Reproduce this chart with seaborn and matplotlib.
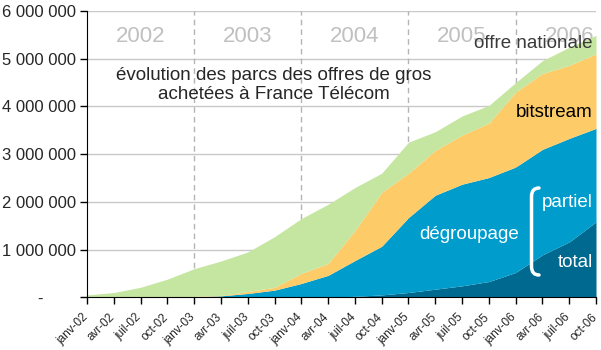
import numpy as np
import pandas as pd
import seaborn as sns
import matplotlib.pyplot as plt
import matplotlib.transforms as mtransforms
from matplotlib.path import Path
from matplotlib.patches import PathPatch

# quarterly values (lines)
quarters = ['janv-02', 'avr-02', 'juil-02', 'oct-02',
            'janv-03', 'avr-03', 'juil-03', 'oct-03',
            'janv-04', 'avr-04', 'juil-04', 'oct-04',
            'janv-05', 'avr-05', 'juil-05', 'oct-05',
            'janv-06', 'avr-06', 'juil-06', 'oct-06']
total = [0, 0, 0, 0, 0, 0, 0, 0, 0, 5000, 20000, 50000,
         100000, 170000, 240000, 330000, 520000, 890000, 1160000, 1580000]
partiel = [0, 0, 0, 0, 10000, 30000, 80000, 150000, 290000, 455000, 750000, 1020000,
           1570000, 1970000, 2130000, 2180000, 2210000, 2210000, 2170000, 1960000]
bitstream = [0, 0, 0, 0, 10000, 10000, 40000, 60000, 210000, 250000, 630000, 1130000,
             930000, 940000, 1030000, 1140000, 1570000, 1590000, 1530000, 1560000]
offre_nationale = [50000, 100000, 210000, 380000, 580000, 720000, 830000, 1060000, 1150000, 1240000,
                   900000, 400000, 650000, 390000, 400000, 370000, 200000, 270000, 380000, 390000]
years = ['2002', '2003', '2004', '2005', '2006']
y_ticks = [0, 1000000, 2000000, 3000000, 4000000, 5000000, 6000000]
y_labels = ['-       ', '1 000 000', '2 000 000', '3 000 000', '4 000 000', '5 000 000', '6 000 000']

colors = ['#00698f', '#009ccc', '#fdcc69', '#c5e6a1']

df = pd.DataFrame({'trimestre': quarters, 'total': total, 'partiel': partiel,
                   'bitstream': bitstream, 'offre nationale': offre_nationale})
df['x'] = np.arange(len(df))

sns.set_style('white')
plt.rcParams['font.family'] = ['Liberation Sans', 'DejaVu Sans']

fig = plt.figure(figsize=(6.01, 3.5), dpi=100)
ax = fig.add_axes([0.1448, 0.1506, 0.8469, 0.818])

ax.stackplot(df['x'], df['total'], df['partiel'], df['bitstream'], df['offre nationale'],
             colors=colors, linewidth=0, zorder=3)

ax.set_xlim(0, len(df) - 1)
ax.set_ylim(0, 6000000)
ax.set_yticks(y_ticks)
ax.set_yticklabels(y_labels, fontsize=12)
ax.set_xticks(df['x'])
ax.set_xticklabels(df['trimestre'], rotation=45, ha='right', va='top',
                   rotation_mode='anchor', fontsize=8.5)
ax.tick_params(axis='both', direction='out', length=5, width=1, color='black', bottom=True, left=True)
ax.tick_params(axis='x', pad=5)
ax.tick_params(axis='y', pad=3)

# shift the date labels a little to the left, as in the original
shift = mtransforms.ScaledTranslation(-5 / 100, 0, fig.dpi_scale_trans)
for lab in ax.get_xticklabels():
    lab.set_transform(lab.get_transform() + shift)

# grid
for v in y_ticks[1:]:
    ax.axhline(v, color='#c8c8c8', lw=1, zorder=1)
for i in range(4, len(df), 4):
    ax.axvline(i, color='#b4b4b4', lw=1, ls=(0, (4, 3)), zorder=1)

sns.despine(ax=ax, top=True, right=True)
ax.spines['left'].set_color('black')
ax.spines['bottom'].set_color('black')
ax.spines['left'].set_zorder(5)
ax.spines['bottom'].set_zorder(5)

# year labels
for k, yr in enumerate(years):
    ax.text(2 + 4 * k, 5470000, yr, color='#c0c0c0', fontsize=16, ha='center', va='center', zorder=2)

ax.text(0.367, 0.74, 'évolution des parcs des offres de gros\nachetées à France Télécom',
        transform=ax.transAxes, ha='center', va='center', fontsize=13.5, linespacing=1.15, zorder=6)

ax.text(0.994, 0.888, 'offre nationale', transform=ax.transAxes, ha='right', va='center',
        fontsize=13.5, color='#3a3a3a', zorder=6)
ax.text(0.994, 0.645, 'bitstream', transform=ax.transAxes, ha='right', va='center',
        fontsize=13.5, color='black', zorder=6)
ax.text(0.75, 0.22, 'dégroupage', transform=ax.transAxes, ha='center', va='center',
        fontsize=13.5, color='white', zorder=6)
ax.text(0.994, 0.33, 'partiel', transform=ax.transAxes, ha='right', va='center',
        fontsize=13.5, color='white', zorder=6)
ax.text(0.994, 0.12, 'total', transform=ax.transAxes, ha='right', va='center',
        fontsize=13.5, color='white', zorder=6)

# white bracket
bx0, bx1 = (531.5 - 87) / 509, (539 - 87) / 509
by0, by1 = (297.3 - 275) / 286.3, (297.3 - 188) / 286.3
bracket = Path([(bx1, by1), (bx0, by1), (bx0, by1 - 0.03),
                (bx0, by0 + 0.03), (bx0, by0), (bx1, by0)],
               [Path.MOVETO, Path.CURVE3, Path.CURVE3,
                Path.LINETO, Path.CURVE3, Path.CURVE3])
ax.add_patch(PathPatch(bracket, transform=ax.transAxes, fill=False, edgecolor='white',
                       lw=2.5, capstyle='round', zorder=6))

fig.savefig('out.png', dpi=100)
